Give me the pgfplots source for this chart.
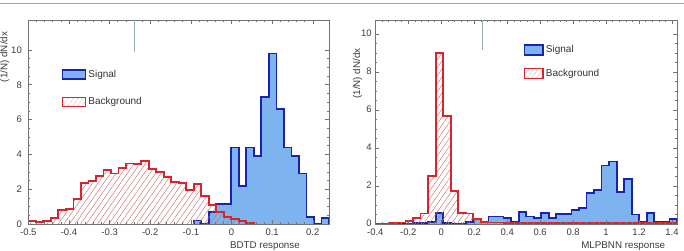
\documentclass[border=0pt]{standalone}
\usepackage{pgfplots}
\pgfplotsset{compat=1.18}
\usepackage{fontspec}
\setmainfont{Liberation Sans}
\usetikzlibrary{patterns.meta}

\definecolor{sigfill}{RGB}{125,180,240}
\definecolor{sigline}{RGB}{25,35,175}
\definecolor{bkgline}{RGB}{220,35,45}
\definecolor{bkghatch}{RGB}{205,110,110}
\definecolor{axgray}{RGB}{115,115,115}
\definecolor{txtgray}{RGB}{60,60,60}

\pgfplotsset{
  myaxis/.style={
    scale only axis, height=204pt, const plot, clip=true,
    axis on top,
    axis line style={axgray, line width=0.5pt},
    every tick/.style={axgray, line width=0.5pt},
    major tick length=4pt, minor tick length=2pt,
    tick align=inside, tick pos=both,
    ymin=0, ytick={0,2,4,6,8,10}, minor y tick num=3, minor x tick num=4,
    tick label style={font=\fontsize{9.5}{11}\selectfont, text=txtgray},
    xticklabel style={yshift=-1.2pt},
    /pgf/number format/assume math mode=true,
    label style={font=\fontsize{9.8}{11}\selectfont, text=txtgray},
    legend cell align=left,
  },
  sigfillst/.style={forget plot, draw=none, fill=sigfill},
  siglinest/.style={forget plot, draw=sigline, line width=1.8pt},
  bkgfillst/.style={forget plot, draw=none, pattern={Lines[angle=55,distance=4.6pt,line width=0.45pt]}, pattern color=bkghatch},
  bkglinest/.style={forget plot, draw=bkgline, line width=1.8pt},
}

\begin{document}
\begin{tikzpicture}
\path[use as bounding box] (0,0) rectangle (684pt,251pt);
\draw[black!35, line width=1.4pt] (0,247.6pt) -- (684pt,247.6pt);

% ---------------- Left panel: BDTD ----------------
\begin{axis}[myaxis, at={(28.33pt,27pt)}, anchor=south west,
  width=300.7pt, xmin=-0.5, xmax=0.24, ymax=11.72,
  xtick={-0.5,-0.4,-0.3,-0.2,-0.1,0,0.1,0.2},
  yticklabel style={xshift=-3pt},
  xlabel={BDTD response},
  xlabel style={at={(axis description cs:0.9035,0)}, anchor=base east, yshift=-24pt, inner sep=0pt},
  ylabel={(1/N) dN/dx},
  ylabel style={at={(axis description cs:-0.0693,0.9426)}, anchor=base east, inner sep=0pt},
  legend style={at={(axis description cs:0.111,0.766)}, anchor=north west, draw=none, fill=none,
    font=\fontsize{10}{12}\selectfont, text=black!80, row sep=15pt, inner sep=0pt},
]
\addlegendimage{legend image code/.code={\draw[fill=sigfill, draw=sigline, line width=1.5pt] (0pt,-4.5pt) rectangle (23pt,4.5pt);}}
\addlegendentry{Signal}
\addlegendimage{legend image code/.code={\draw[pattern={Lines[angle=55,distance=4pt,line width=0.45pt]}, pattern color=bkghatch, draw=bkgline, line width=1.5pt] (0pt,-4.5pt) rectangle (23pt,4.5pt);}}
\addlegendentry{Background}

\addplot[sigfillst] coordinates {
(-0.093,0) (-0.093,0.2) (-0.0745,0) (-0.056,0.7) (-0.0375,1.15) (-0.019,1.15)
(-0.0005,4.4) (0.018,2.2) (0.0365,4.4) (0.055,3.9) (0.0735,7.3) (0.092,9.8)
(0.1105,6.6) (0.129,4.4) (0.1475,3.9) (0.166,2.9) (0.1845,0.42) (0.203,0)
(0.2215,0.35) (0.24,0)} \closedcycle;
\addplot[siglinest] coordinates {
(-0.093,0) (-0.093,0.2) (-0.0745,0) (-0.056,0.7) (-0.0375,1.15) (-0.019,1.15)
(-0.0005,4.4) (0.018,2.2) (0.0365,4.4) (0.055,3.9) (0.0735,7.3) (0.092,9.8)
(0.1105,6.6) (0.129,4.4) (0.1475,3.9) (0.166,2.9) (0.1845,0.42) (0.203,0)
(0.2215,0.35) (0.24,0)};

\addplot[bkgfillst] coordinates {
(-0.5,0) (-0.5,0.17) (-0.4815,0.1) (-0.463,0.17) (-0.4445,0.33) (-0.426,0.8)
(-0.4075,0.84) (-0.389,1.42) (-0.3705,2.34) (-0.352,2.49) (-0.3335,2.76)
(-0.315,3.1) (-0.2965,2.9) (-0.278,3.2) (-0.2595,3.48) (-0.241,3.43)
(-0.2225,3.6) (-0.204,3.14) (-0.1855,2.97) (-0.167,2.72) (-0.1485,2.39)
(-0.13,2.34) (-0.1115,1.95) (-0.093,2.3) (-0.0745,1.6) (-0.056,1.1)
(-0.0375,0.71) (-0.019,0.42) (-0.0005,0.29) (0.018,0.17) (0.0365,0.08) (0.055,0)} \closedcycle;
\addplot[bkglinest] coordinates {
(-0.5,0) (-0.5,0.17) (-0.4815,0.1) (-0.463,0.17) (-0.4445,0.33) (-0.426,0.8)
(-0.4075,0.84) (-0.389,1.42) (-0.3705,2.34) (-0.352,2.49) (-0.3335,2.76)
(-0.315,3.1) (-0.2965,2.9) (-0.278,3.2) (-0.2595,3.48) (-0.241,3.43)
(-0.2225,3.6) (-0.204,3.14) (-0.1855,2.97) (-0.167,2.72) (-0.1485,2.39)
(-0.13,2.34) (-0.1115,1.95) (-0.093,2.3) (-0.0745,1.6) (-0.056,1.1)
(-0.0375,0.71) (-0.019,0.42) (-0.0005,0.29) (0.018,0.17) (0.0365,0.08) (0.055,0)};
\end{axis}

% ---------------- Right panel: MLPBNN ----------------
\begin{axis}[myaxis, at={(375.3pt,27pt)}, anchor=south west,
  width=301.7pt, xmin=-0.4, xmax=1.43, ymax=10.75,
  xtick={-0.4,-0.2,0,0.2,0.4,0.6,0.8,1,1.2,1.4},
  yticklabel style={yshift=0.8pt},
  xlabel={MLPBNN response},
  xlabel style={at={(axis description cs:0.9614,0)}, anchor=base east, yshift=-24pt, inner sep=0pt},
  ylabel={(1/N) dN/dx},
  ylabel style={at={(axis description cs:-0.0507,0.861)}, anchor=base east, inner sep=0pt},
  legend style={at={(axis description cs:0.492,0.886)}, anchor=north west, draw=none, fill=none,
    font=\fontsize{10}{12}\selectfont, text=black!80, row sep=11pt, inner sep=0pt},
]
\addlegendimage{legend image code/.code={\draw[fill=sigfill, draw=sigline, line width=1.5pt] (0pt,-5pt) rectangle (18.5pt,5pt);}}
\addlegendentry{Signal}
\addlegendimage{legend image code/.code={\draw[pattern={Lines[angle=55,distance=4pt,line width=0.45pt]}, pattern color=bkghatch, draw=bkgline, line width=1.5pt] (0pt,-5pt) rectangle (18.5pt,5pt);}}
\addlegendentry{Background}

\addplot[sigfillst] coordinates {
(-0.4,0) (-0.4,0.03) (-0.35425,0.03) (-0.3085,0.03) (-0.26275,0.06) (-0.217,0.03)
(-0.17125,0.04) (-0.1255,0.06) (-0.07975,0.1) (-0.034,0.6) (0.01175,0.05)
(0.0575,0.03) (0.10325,0.03) (0.149,0.1) (0.19475,0.25) (0.2405,0.12)
(0.28625,0.4) (0.332,0.4) (0.37775,0.3) (0.4235,0.12) (0.46925,0.62)
(0.515,0.39) (0.56075,0.3) (0.6065,0.56) (0.65225,0.3) (0.698,0.53)
(0.74375,0.53) (0.7895,0.72) (0.83525,0.86) (0.881,1.65) (0.92675,1.79)
(0.9725,3.08) (1.01825,3.29) (1.064,1.68) (1.10975,2.36) (1.1555,0.5)
(1.20125,0.12) (1.247,0.6) (1.29275,0.12) (1.3385,0.1) (1.38425,0.26) (1.43,0)} \closedcycle;
\addplot[siglinest] coordinates {
(-0.4,0) (-0.4,0.03) (-0.35425,0.03) (-0.3085,0.03) (-0.26275,0.06) (-0.217,0.03)
(-0.17125,0.04) (-0.1255,0.06) (-0.07975,0.1) (-0.034,0.6) (0.01175,0.05)
(0.0575,0.03) (0.10325,0.03) (0.149,0.1) (0.19475,0.25) (0.2405,0.12)
(0.28625,0.4) (0.332,0.4) (0.37775,0.3) (0.4235,0.12) (0.46925,0.62)
(0.515,0.39) (0.56075,0.3) (0.6065,0.56) (0.65225,0.3) (0.698,0.53)
(0.74375,0.53) (0.7895,0.72) (0.83525,0.86) (0.881,1.65) (0.92675,1.79)
(0.9725,3.08) (1.01825,3.29) (1.064,1.68) (1.10975,2.36) (1.1555,0.5)
(1.20125,0.12) (1.247,0.6) (1.29275,0.12) (1.3385,0.1) (1.38425,0.26) (1.43,0)};

\addplot[bkgfillst] coordinates {
(-0.4,0) (-0.4,0.03) (-0.35425,0.03) (-0.3085,0.05) (-0.26275,0.08) (-0.217,0.15)
(-0.17125,0.3) (-0.1255,0.55) (-0.07975,2.53) (-0.034,9.0) (0.01175,5.69)
(0.0575,1.72) (0.10325,0.6) (0.149,0.55) (0.19475,0.25) (0.2405,0.12)
(0.28625,0.08) (0.332,0.08) (0.37775,0.06) (0.4235,0.05) (0.46925,0.05)
(0.515,0.05) (0.56075,0.05) (0.6065,0.05) (0.65225,0.05) (0.698,0.05)
(0.74375,0.05) (0.7895,0.05) (0.83525,0.05) (0.881,0.05) (0.92675,0.05)
(0.9725,0.05) (1.01825,0.05) (1.064,0.05) (1.10975,0.05) (1.1555,0.05)
(1.20125,0.05) (1.247,0.05) (1.29275,0.05) (1.3385,0.05) (1.38425,0.05) (1.43,0)} \closedcycle;
\addplot[bkglinest] coordinates {
(-0.4,0) (-0.4,0.03) (-0.35425,0.03) (-0.3085,0.05) (-0.26275,0.08) (-0.217,0.15)
(-0.17125,0.3) (-0.1255,0.55) (-0.07975,2.53) (-0.034,9.0) (0.01175,5.69)
(0.0575,1.72) (0.10325,0.6) (0.149,0.55) (0.19475,0.25) (0.2405,0.12)
(0.28625,0.08) (0.332,0.08) (0.37775,0.06) (0.4235,0.05) (0.46925,0.05)
(0.515,0.05) (0.56075,0.05) (0.6065,0.05) (0.65225,0.05) (0.698,0.05)
(0.74375,0.05) (0.7895,0.05) (0.83525,0.05) (0.881,0.05) (0.92675,0.05)
(0.9725,0.05) (1.01825,0.05) (1.064,0.05) (1.10975,0.05) (1.1555,0.05)
(1.20125,0.05) (1.247,0.05) (1.29275,0.05) (1.3385,0.05) (1.38425,0.05) (1.43,0)};
\end{axis}

% faint vertical marks seen at the top of both frames
\draw[gray!60!teal!60, line width=0.5pt] (134.3pt,231pt) -- (134.3pt,199.3pt);
\draw[gray!60!teal!60, line width=0.5pt] (482pt,231pt) -- (482pt,201pt);
\end{tikzpicture}
\end{document}
